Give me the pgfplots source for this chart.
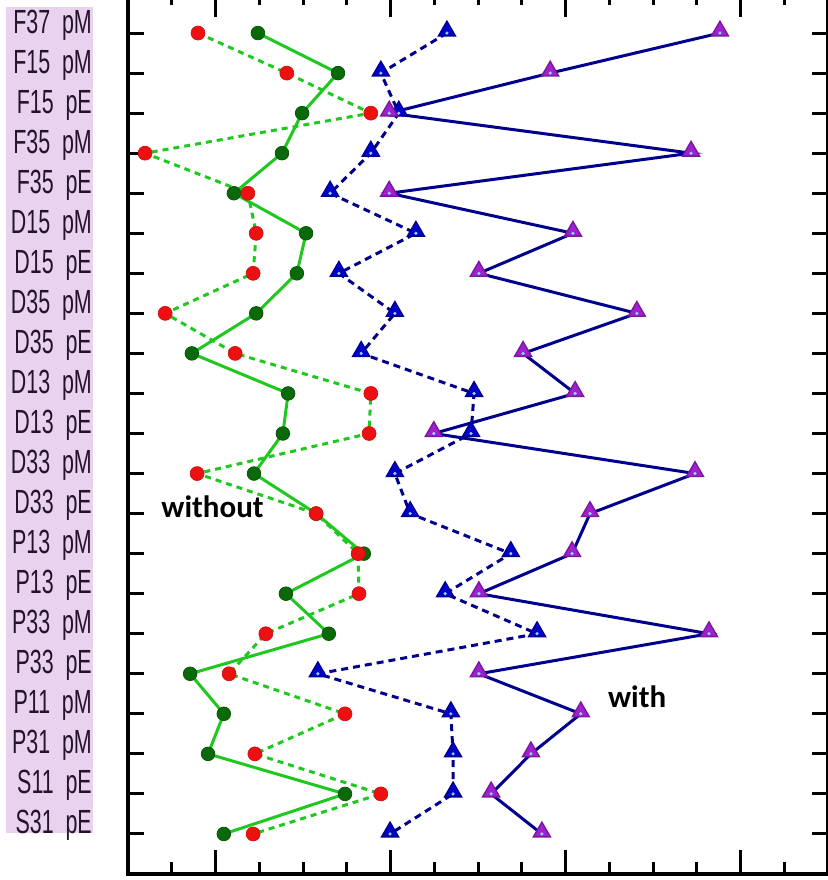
\documentclass[border=0pt]{standalone}
\usepackage{pgfplots}
\pgfplotsset{compat=1.18}
\usepackage{pgfplotstable}
\usepackage{graphicx}
\usepackage{fontspec}
\setmainfont{Liberation Sans}
\newfontfamily\calib{Carlito}

\definecolor{labbg}{HTML}{E8D2F0}
\definecolor{labtxt}{HTML}{24142A}
\definecolor{lgreen}{HTML}{1FC81F}
\definecolor{dgreen}{HTML}{0A6A0A}
\definecolor{mred}{HTML}{EE1010}
\definecolor{navy}{HTML}{00008C}
\definecolor{tblue}{HTML}{0000CC}
\definecolor{tpurple}{HTML}{A020D0}

% rows: 0 = F37 pM (top) ... 20 = S31 pE (bottom)
\pgfplotstableread{
i  red   green  blue  purple
0  1.60  2.97   7.29  13.53
1  3.63  4.80   5.78  9.65
2  5.55  3.98   6.19  5.97
3  0.39  3.52   5.55  12.87
4  2.74  2.42   4.62  5.97
5  2.93  4.07   6.58  10.17
6  2.86  3.86   4.82  8.02
7  0.85  2.93   6.10  11.63
8  2.45  1.46   5.33  9.03
9  5.55  3.66   7.91  10.22
10 5.51  3.54   7.84  6.99
11 1.58  2.88   6.10  12.96
12 4.30  4.30   6.45  10.56
13 5.26  5.39   8.75  10.15
14 5.28  3.61   7.25  8.02
15 3.15  4.59   9.35  13.28
16 2.31  1.42   4.34  8.02
17 4.96  2.19   7.38  10.35
18 2.90  1.83   7.43  9.21
19 5.78  4.96   7.43  8.30
20 2.86  2.19   5.99  9.46
}\data

\newcommand\lab[2]{\scalebox{0.64}[1]{#1\hspace{0.55em}#2}}

\begin{document}
\begin{tikzpicture}
% label background
\fill[labbg] (-122pt,41pt) rectangle (-35pt,867pt);
\begin{axis}[
    width=700pt, height=881pt, scale only axis,
    xmin=0, xmax=16, ymin=-1, ymax=21, y dir=reverse,
    axis line style={line width=3.5pt},
    xtick={2,6,10,14}, minor xtick={0,...,16}, xticklabel=\empty,
    ytick={0,...,20},
    yticklabels={\lab{F37}{pM},\lab{F15}{pM},\lab{F15}{pE},\lab{F35}{pM},\lab{F35}{pE},
      \lab{D15}{pM},\lab{D15}{pE},\lab{D35}{pM},\lab{D35}{pE},\lab{D13}{pM},\lab{D13}{pE},
      \lab{D33}{pM},\lab{D33}{pE},\lab{P13}{pM},\lab{P13}{pE},\lab{P33}{pM},\lab{P33}{pE},
      \lab{P11}{pM},\lab{P31}{pM},\lab{S11}{pE},\lab{S31}{pE}},
    yticklabel style={anchor=base east, inner sep=0pt, xshift=-36pt,
      font=\fontsize{33.5}{33.5}\selectfont, text=labtxt},
    tick align=inside,
    major tick length=24pt, minor tick length=12pt,
    ytick style={/pgfplots/major tick length=16pt},
    every tick/.style={black, line width=3pt},
    clip=false,
]
\addplot[lgreen, line width=3pt, mark=*, mark size=6.8pt,
  mark options={solid, fill=dgreen, draw=dgreen!80!black, line width=0.8pt}]
  table[x=green, y=i] {\data};
\addplot[lgreen, line width=3pt, dash pattern=on 6pt off 5pt, mark=*, mark size=7pt,
  mark options={solid, fill=mred, draw=mred!85!black, line width=0.6pt}]
  table[x=red, y=i] {\data};
\addplot[navy, line width=3pt, dash pattern=on 7pt off 5pt]
  table[x=blue, y=i] {\data};
\addplot[only marks, mark=triangle*, mark size=9.8pt,
  mark options={solid, draw=navy, fill=tblue, line width=1.4pt, yshift=2pt}]
  table[x=blue, y=i] {\data};
\addplot[only marks, mark=*, mark size=1.4pt, color=cyan!45]
  table[x=blue, y=i] {\data};
\addplot[navy, line width=3pt]
  table[x=purple, y=i] {\data};
\addplot[only marks, mark=triangle*, mark size=9.8pt,
  mark options={solid, draw=tpurple!75!black, fill=tpurple, line width=1.4pt, yshift=2pt}]
  table[x=purple, y=i] {\data};
\addplot[only marks, mark=*, mark size=1.4pt, color=cyan!45]
  table[x=purple, y=i] {\data};
\node[anchor=base west, inner sep=0pt, font=\fontsize{31}{31}\calib\bfseries]
  at (axis cs:0.76,12.085) {without};
\node[anchor=base west, inner sep=0pt, font=\fontsize{31}{31}\calib\bfseries]
  at (axis cs:10.97,16.854) {with};
\end{axis}
\pgfresetboundingbox
\path[use as bounding box] (-128pt,-6pt) rectangle (699pt,874pt);
\end{tikzpicture}
\end{document}
